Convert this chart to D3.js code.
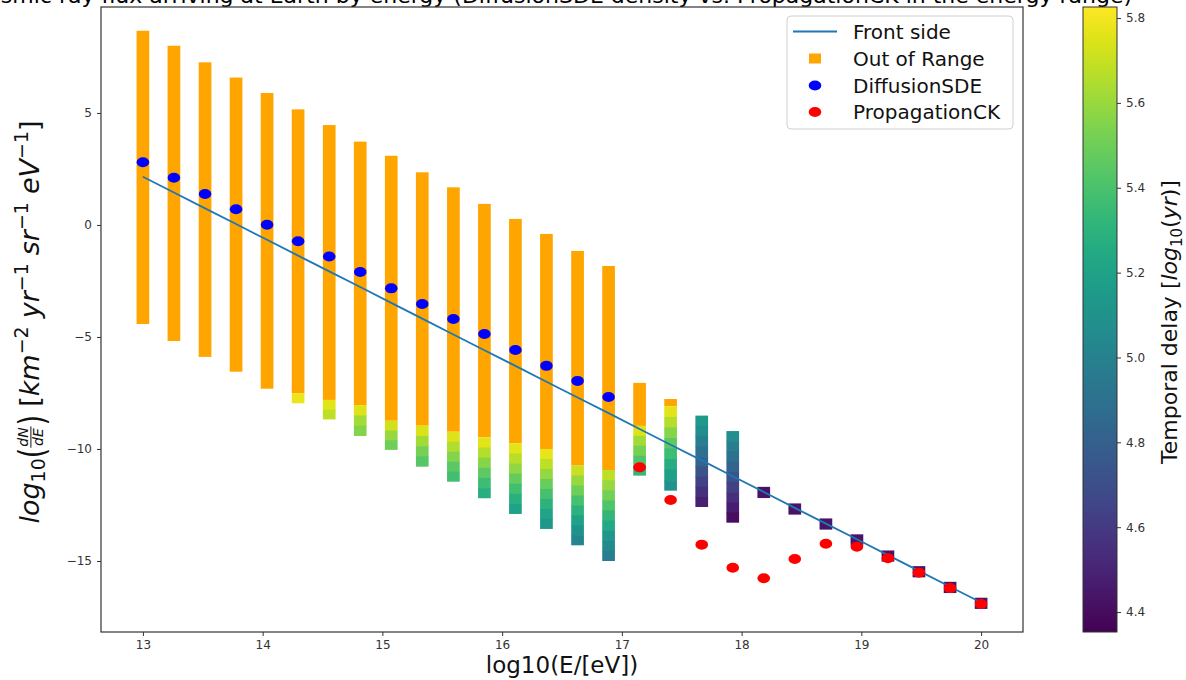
<!DOCTYPE html>
<html><head><meta charset="utf-8">
<script src="https://cdn.jsdelivr.net/npm/d3@7"></script>
<style>
body{margin:0;background:#fff;}
svg{display:block;font-family:"DejaVu Sans",sans-serif;}
</style>
</head><body>
<svg id="chart" width="1186" height="680"></svg>
<script>
// ---------------- DATA ----------------
const titleText = "Cosmic ray flux arriving at Earth by energy (DiffusionSDE density vs. PropagationCK in the energy range)";
const energies = [13.000, 13.259, 13.519, 13.778, 14.037, 14.296, 14.556, 14.815, 15.074, 15.333,
                  15.593, 15.852, 16.111, 16.370, 16.630, 16.889, 17.148, 17.407, 17.667, 17.926,
                  18.185, 18.444, 18.704, 18.963, 19.222, 19.481, 19.741, 20.000];
const frontSide = [2.15, 1.45, 0.74, 0.04, -0.66, -1.37, -2.07, -2.77, -3.48, -4.18,
                   -4.89, -5.59, -6.29, -7.00, -7.70, -8.40, -9.11, -9.81, -10.51, -11.22,
                   -11.92, -12.63, -13.33, -14.03, -14.74, -15.44, -16.15, -16.85];
const diffusionSDE = [2.80, 2.11, 1.38, 0.70, 0.01, -0.73, -1.41, -2.10, -2.83, -3.53,
                      -4.20, -4.87, -5.58, -6.29, -6.96, -7.68, null, null, null, null,
                      null, null, null, null, null, null, null, null];
const propagationCK = [null, null, null, null, null, null, null, null, null, null,
                       null, null, null, null, null, null, -10.82, -12.28, -14.27, -15.30,
                       -15.77, -14.91, -14.23, -14.36, -14.88, -15.52, -16.21, -16.92];
// top of each column, where the out-of-range (orange) part ends, and bottom of each column
const columnTop = [8.67, 8.00, 7.26, 6.58, 5.89, 5.16, 4.46, 3.72, 3.09, 2.35,
                   1.68, 0.94, 0.27, -0.40, -1.16, -1.83, -7.05, -7.77, -8.51, -9.20,
                   -11.69, -12.43, -13.10, -13.81, -14.53, -15.23, -15.93, -16.64];
const outOfRangeBottom = [-4.42, -5.18, -5.89, -6.55, -7.31, -7.52, -7.81, -8.04, -8.74, -8.96,
                   -9.23, -9.48, -9.75, -10.00, -10.74, -10.94, -8.97, -8.10, -8.51, -9.20,
                   -11.69, -12.43, -13.10, -13.81, -14.53, -15.23, -15.93, -16.64];
const columnBottom = [-4.42, -5.18, -5.89, -6.55, -7.31, -7.96, -8.68, -9.42, -10.04, -10.79,
                   -11.46, -12.20, -12.90, -13.57, -14.30, -15.00, -11.19, -11.86, -12.59, -13.29,
                   -12.19, -12.93, -13.60, -14.31, -15.03, -15.73, -16.43, -17.14];
// temporal delay (log10 yr) of each in-range cell, top to bottom
const cellDelays = [
  [], [], [], [], [],
  [5.78],
  [5.76, 5.68],
  [5.75, 5.63, 5.55],
  [5.72, 5.60, 5.50],
  [5.74, 5.62, 5.52, 5.44],
  [5.75, 5.65, 5.55, 5.45, 5.38],
  [5.76, 5.66, 5.56, 5.46, 5.36, 5.28],
  [5.76, 5.67, 5.58, 5.48, 5.38, 5.29, 5.20],
  [5.77, 5.68, 5.59, 5.49, 5.39, 5.30, 5.21, 5.14],
  [5.70, 5.60, 5.50, 5.40, 5.30, 5.20, 5.10, 5.02],
  [5.68, 5.60, 5.51, 5.42, 5.33, 5.24, 5.14, 5.05, 4.97],
  [5.75, 5.62, 5.52, 5.42, 5.33],
  [5.76, 5.66, 5.56, 5.46, 5.36, 5.27, 5.18, 5.10],
  [5.15, 5.07, 4.98, 4.90, 4.82, 4.73, 4.64, 4.56, 4.48],
  [5.08, 4.98, 4.90, 4.82, 4.73, 4.64, 4.55, 4.47, 4.40],
  [4.43], [4.43], [4.43], [4.43], [4.43], [4.43], [4.43], [4.43]
];
const xTicks = [13, 14, 15, 16, 17, 18, 19, 20];
const yTicks = [-15, -10, -5, 0, 5];
const cbTicks = [4.4, 4.6, 4.8, 5.0, 5.2, 5.4, 5.6, 5.8];
const legendLabels = ["Front side", "Out of Range", "DiffusionSDE", "PropagationCK"];

// ---------------- LAYOUT ----------------
const svg = d3.select("#chart");
const plot = {left: 101, right: 1023, top: 7, bottom: 632};
const x = d3.scaleLinear().domain([12.65, 20.35]).range([plot.left, plot.right]);
const y = d3.scaleLinear().domain([-18.17, 9.73]).range([plot.bottom, plot.top]);
const cb = {left: 1083, right: 1117};
const cbScale = d3.scaleLinear().domain([4.353, 5.826]).range([plot.bottom, plot.top]);
const color = d3.scaleSequential(d3.interpolateViridis).domain([4.353, 5.826]);
const orange = "#ffa500";
const barHalf = 0.053;

// title (cut off at top, as in the reference)
svg.append("text").attr("x", 552).attr("y", 3).attr("text-anchor", "middle")
  .attr("font-size", 22).attr("fill", "#000").text(titleText);

// ---------------- COLUMNS ----------------
const gBars = svg.append("g");
energies.forEach((e, i) => {
  const x0 = x(e - barHalf), w = x(e + barHalf) - x(e - barHalf);
  if (outOfRangeBottom[i] < columnTop[i]) {
    gBars.append("rect").attr("x", x0).attr("width", w)
      .attr("y", y(columnTop[i])).attr("height", y(outOfRangeBottom[i]) - y(columnTop[i]))
      .attr("fill", orange);
  }
  const cells = cellDelays[i];
  const n = cells.length;
  if (n) {
    const h = (outOfRangeBottom[i] - columnBottom[i]) / n;
    cells.forEach((d, j) => {
      const t = outOfRangeBottom[i] - j * h, b = t - h;
      gBars.append("rect").attr("x", x0).attr("width", w)
        .attr("y", y(t)).attr("height", y(b) - y(t) + (j < n - 1 ? 0.6 : 0))
        .attr("fill", color(d));
    });
  }
});

// front side line
svg.append("path").datum(energies.map((e, i) => [e, frontSide[i]]))
  .attr("d", d3.line().x(d => x(d[0])).y(d => y(d[1])))
  .attr("fill", "none").attr("stroke", "#1f77b4").attr("stroke-width", 1.8);

// points
svg.append("g").selectAll("ellipse").data(energies.map((e, i) => [e, diffusionSDE[i]]).filter(d => d[1] !== null))
  .join("ellipse").attr("cx", d => x(d[0])).attr("cy", d => y(d[1])).attr("rx", 6.3).attr("ry", 5)
  .attr("fill", "#0000ff");
svg.append("g").selectAll("ellipse").data(energies.map((e, i) => [e, propagationCK[i]]).filter(d => d[1] !== null))
  .join("ellipse").attr("cx", d => x(d[0])).attr("cy", d => y(d[1])).attr("rx", 6.3).attr("ry", 5)
  .attr("fill", "#ff0000");

// ---------------- AXES ----------------
const axStroke = "#333";
svg.append("rect").attr("x", plot.left).attr("y", plot.top)
  .attr("width", plot.right - plot.left).attr("height", plot.bottom - plot.top)
  .attr("fill", "none").attr("stroke", axStroke).attr("stroke-width", 1.2);
const xAxis = svg.append("g").attr("transform", `translate(0,${plot.bottom})`)
  .call(d3.axisBottom(x).tickValues(xTicks).tickSize(4).tickPadding(4).tickFormat(d3.format("d")));
const yAxis = svg.append("g").attr("transform", `translate(${plot.left},0)`)
  .call(d3.axisLeft(y).tickValues(yTicks).tickSize(4).tickPadding(5).tickFormat(d => d < 0 ? "\u2212" + Math.abs(d) : d));
[xAxis, yAxis].forEach(a => {
  a.select(".domain").remove();
  a.selectAll(".tick line").attr("stroke", axStroke);
  a.selectAll(".tick text").attr("font-size", 12).attr("fill", "#333").attr("font-family", "DejaVu Sans");
});

// x label
svg.append("text").attr("x", (plot.left + plot.right) / 2).attr("y", 673)
  .attr("text-anchor", "middle").attr("font-size", 23).attr("fill", "#111").text("log10(E/[eV])");

// math-ish label builder (horizontal, centred later)
function mathLabel(g, pieces, base) {
  let cx = 0;
  pieces.forEach(p => {
    if (p.frac) {
      const fs = p.size;
      const a = g.append("text").attr("font-size", fs).attr("font-style", "italic").text(p.frac[0]);
      const b = g.append("text").attr("font-size", fs).attr("font-style", "italic").text(p.frac[1]);
      const la = a.node().getComputedTextLength(), lb = b.node().getComputedTextLength();
      const w = Math.max(la, lb) + 2;
      const axis = -base * 0.3;
      a.attr("x", cx + (w - la) / 2).attr("y", axis - 2.5);
      b.attr("x", cx + (w - lb) / 2).attr("y", axis + fs * 0.78 + 1.5);
      g.append("line").attr("x1", cx).attr("x2", cx + w).attr("y1", axis).attr("y2", axis)
        .attr("stroke", "#111").attr("stroke-width", 1);
      cx += w + 1;
    } else {
      const t = g.append("text").attr("x", cx).attr("y", p.dy || 0)
        .attr("font-size", p.size || base).text(p.t);
      if (p.it) t.attr("font-style", "italic");
      if (p.sx) t.attr("transform", `translate(${cx},0) scale(1,${p.sx}) translate(${-cx},0)`);
      cx += t.node().getComputedTextLength() + (p.gap || 0);
    }
  });
  return cx;
}

// y label
const gy = svg.append("g").attr("fill", "#111");
const gyIn = gy.append("g");
const yLen = mathLabel(gyIn, [
  {t: "log", it: true}, {t: "10", size: 19, dy: 6},
  {t: "(", size: 27, sx: 1.3, dy: 4}, {frac: ["dN", "dE"], size: 14}, {t: ")", size: 27, sx: 1.3, dy: 4, gap: 8},
  {t: "[", size: 27}, {t: "km", it: true}, {t: "\u22122", size: 19, dy: -11, gap: 8},
  {t: "yr", it: true}, {t: "\u22121", size: 19, dy: -11, gap: 8},
  {t: "sr", it: true}, {t: "\u22121", size: 19, dy: -11, gap: 8},
  {t: "eV", it: true}, {t: "\u22121", size: 19, dy: -11}, {t: "]"}
], 27);
gy.attr("transform", `translate(39,${322 + yLen / 2}) rotate(-90)`);

// ---------------- COLORBAR ----------------
const defs = svg.append("defs");
const grad = defs.append("linearGradient").attr("id", "cbgrad")
  .attr("x1", 0).attr("y1", 1).attr("x2", 0).attr("y2", 0);
d3.range(0, 1.0001, 0.05).forEach(t => {
  grad.append("stop").attr("offset", t).attr("stop-color", d3.interpolateViridis(t));
});
svg.append("rect").attr("x", cb.left).attr("y", plot.top).attr("width", cb.right - cb.left)
  .attr("height", plot.bottom - plot.top).attr("fill", "url(#cbgrad)")
  .attr("stroke", "#333").attr("stroke-width", 1);
const cbAxis = svg.append("g").attr("transform", `translate(${cb.right},0)`)
  .call(d3.axisRight(cbScale).tickValues(cbTicks).tickSize(4).tickPadding(5).tickFormat(d3.format(".1f")));
cbAxis.select(".domain").remove();
cbAxis.selectAll(".tick line").attr("stroke", axStroke);
cbAxis.selectAll(".tick text").attr("font-size", 12).attr("fill", "#333").attr("font-family", "DejaVu Sans");

const gc = svg.append("g").attr("fill", "#111");
const gcIn = gc.append("g");
const cLen = mathLabel(gcIn, [
  {t: "Temporal delay [", size: 22}, {t: "log", it: true, size: 22}, {t: "10", size: 15, dy: 5},
  {t: "(", size: 22}, {t: "yr", it: true, size: 22}, {t: ")]", size: 22}
], 22);
gc.attr("transform", `translate(1177,${322 + cLen / 2}) rotate(-90)`);

// ---------------- LEGEND ----------------
const lg = svg.append("g");
lg.append("rect").attr("x", 787).attr("y", 16).attr("width", 226).attr("height", 113).attr("rx", 4)
  .attr("fill", "#fff").attr("fill-opacity", 0.85).attr("stroke", "#d0d0d0");
const rowY = [31.5, 58.5, 85.5, 112];
lg.append("line").attr("x1", 793).attr("x2", 837).attr("y1", rowY[0]).attr("y2", rowY[0])
  .attr("stroke", "#1f77b4").attr("stroke-width", 1.8);
lg.append("rect").attr("x", 809).attr("y", rowY[1] - 5).attr("width", 12).attr("height", 10).attr("fill", orange);
lg.append("ellipse").attr("cx", 815).attr("cy", rowY[2]).attr("rx", 6.3).attr("ry", 5).attr("fill", "#0000ff");
lg.append("ellipse").attr("cx", 815).attr("cy", rowY[3]).attr("rx", 6.3).attr("ry", 5).attr("fill", "#ff0000");
legendLabels.forEach((l, i) => {
  lg.append("text").attr("x", 853).attr("y", rowY[i] + 7).attr("font-size", 20).attr("fill", "#111").text(l);
});
</script>
</body></html>
